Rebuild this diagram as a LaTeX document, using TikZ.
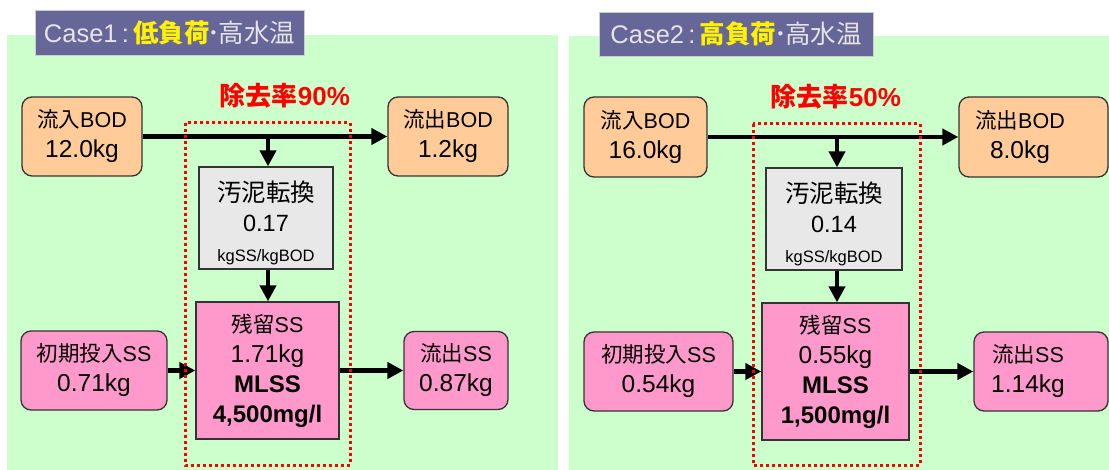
\documentclass[tikz,border=0pt]{standalone}
\usepackage{fontspec}
\setmainfont{Liberation Sans}
\newfontfamily\cjk{Noto Sans CJK JP}
\usetikzlibrary{arrows.meta}
\definecolor{bggreen}{HTML}{CCFFCC}
\definecolor{titlebg}{HTML}{666699}
\definecolor{titletxt}{HTML}{E4E4E4}
\definecolor{orangefill}{HTML}{FFCC99}
\definecolor{pinkfill}{HTML}{FF99CC}
\definecolor{grayfill}{HTML}{E8E8E8}
\definecolor{boxline}{HTML}{333333}
\newcommand\fa{\fontsize{21.5}{30}\selectfont}
\newcommand\fb{\fontsize{24.5}{30}\selectfont}
\newcommand\fc{\fontsize{16.5}{30}\selectfont}
\begin{document}
\begin{tikzpicture}[x=1pt,y=-1pt,
  panel/.style={fill=bggreen, draw=none},
  titlebox/.style={fill=titlebg, draw=black!20, line width=0.8pt, inner sep=0pt, font=\fontsize{25.5}{30}\selectfont, text=titletxt},
  box/.style={draw=boxline, line width=1.3pt, inner sep=0pt, align=center, font=\fa, text=black},
  rbox/.style={box, rounded corners=10pt},
  obox/.style={rbox, fill=orangefill},
  pbox/.style={rbox, fill=pinkfill},
  gbox/.style={box, fill=grayfill},
  sbox/.style={box, fill=pinkfill},
  txt/.style={inner sep=0pt, align=center, font=\fa},
  arr/.style={line width=4.5pt, -{Triangle[length=16pt,width=16pt]}},
  ratebox/.style={draw=red, line width=3pt, dash pattern=on 3pt off 3pt},
  ratelabel/.style={inner sep=0pt, text=red, font=\fontsize{26}{30}\selectfont\bfseries}
]
\useasboundingbox (0,0) rectangle (1109,470);
\fill[white] (0,0) rectangle (1109,470);

%% ---------------- Case 1 ----------------
\fill[panel] (7,35) rectangle (558,470);
\node[titlebox, minimum width=269pt, minimum height=45pt] (tL) at (169.5,32.5)
  {Case1\,:\,{\cjk\bfseries\color{yellow}低負荷}{\cjk\kern-2pt･\kern-2pt 高水温}};
\node[ratelabel] (rL) at (285,96) {{\cjk 除去率}90\%};

\node[obox, minimum width=120pt, minimum height=79pt] (inL) at (82,136.5)
  {{\cjk 流入}BOD\\{\fb 12.0kg}};
\node[obox, minimum width=120pt, minimum height=79pt] (outL) at (448,136.5)
  {{\cjk 流出}BOD\\{\fb 1.2kg}};
\node[gbox, minimum width=134pt, minimum height=102pt] (slL) at (266,218) {};
\node[txt] (slLt) at (266,222.5)
  {{\fb\cjk 汚泥転換}\\{\fontsize{23.5}{29}\selectfont 0.17}\\{\fc kgSS/kgBOD}};
\node[sbox, minimum width=143pt, minimum height=137pt] (rsL) at (267.5,370.5)
  {{\cjk 残留}SS\\{\fb 1.71kg}\\{\fontsize{24}{32}\selectfont\bfseries MLSS}\\{\fontsize{24}{31}\selectfont\bfseries 4,500mg/l}};
\node[pbox, minimum width=146pt, minimum height=79pt] (initL) at (94,370.5)
  {{\cjk 初期投入}SS\\{\fb 0.71kg}};
\node[pbox, minimum width=104pt, minimum height=78pt] (effL) at (456,370.5)
  {{\cjk 流出}SS\\{\fb 0.87kg}};

\coordinate (jL) at (268,136.5);
\draw[arr] (inL.east) -- (outL.west);
\draw[arr] (jL) -- (jL |- slL.north);
\draw[arr] (slL.south -| jL) -- (rsL.north -| jL);
\draw[arr] (initL.east) -- (rsL.west);
\draw[arr] (rsL.east) -- (effL.west);
\draw[ratebox] (185,123) rectangle (350,465);

%% ---------------- Case 2 ----------------
\fill[panel] (569,36) rectangle (1109,470);
\node[titlebox, minimum width=274pt, minimum height=44pt] (tR) at (736,34)
  {Case2\,:\,{\cjk\bfseries\color{yellow}高負荷}{\cjk\kern-2pt･\kern-2pt 高水温}};
\node[ratelabel] (rR) at (836,97) {{\cjk 除去率}50\%};

\node[obox, minimum width=123pt, minimum height=80pt] (inR) at (645.5,137)
  {{\cjk 流入}BOD\\{\fb 16.0kg}};
\node[obox, minimum width=149pt, minimum height=80pt] (outR) at (1033.5,137) {};
\node[txt] (outRt) at (1020,137) {{\cjk 流出}BOD\\{\fb 8.0kg}};
\node[gbox, minimum width=136pt, minimum height=102pt] (slR) at (834,219) {};
\node[txt] (slRt) at (834,223.5)
  {{\fb\cjk 汚泥転換}\\{\fontsize{23.5}{29}\selectfont 0.14}\\{\fc kgSS/kgBOD}};
\node[sbox, minimum width=147pt, minimum height=137pt] (rsR) at (835.5,371.5)
  {{\cjk 残留}SS\\{\fb 0.55kg}\\{\fontsize{24}{32}\selectfont\bfseries MLSS}\\{\fontsize{24}{31}\selectfont\bfseries 1,500mg/l}};
\node[pbox, minimum width=149pt, minimum height=79pt] (initR) at (658.5,371.5)
  {{\cjk 初期投入}SS\\{\fb 0.54kg}};
\node[pbox, minimum width=134pt, minimum height=79pt] (effR) at (1041,371.5) {};
\node[txt] (effRt) at (1028,371.5) {{\cjk 流出}SS\\{\fb 1.14kg}};

\coordinate (jR) at (837,137);
\draw[arr] (inR.east) -- (outR.west);
\draw[arr] (jR) -- (jR |- slR.north);
\draw[arr] (slR.south -| jR) -- (rsR.north -| jR);
\draw[arr] (initR.east) -- (rsR.west);
\draw[arr] (rsR.east) -- (effR.west);
\draw[ratebox] (753,124) rectangle (920,465);
\end{tikzpicture}
\end{document}
